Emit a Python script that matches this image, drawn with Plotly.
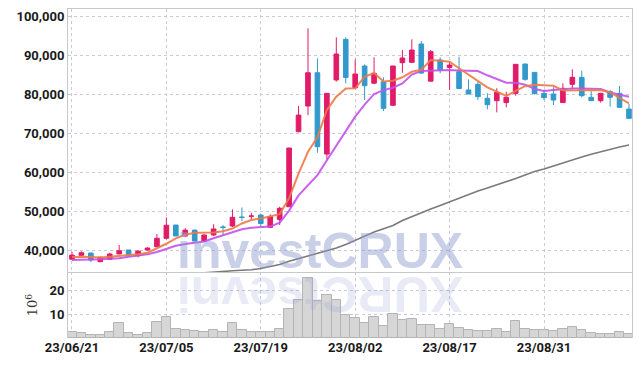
import plotly.graph_objects as go

dates = (
    ["2023-06-%02d" % d for d in [21, 22, 23, 26, 27, 28, 29, 30]]
    + ["2023-07-%02d" % d for d in [3, 4, 5, 6, 7, 10, 11, 12, 13, 14, 17, 18, 19, 20, 21, 24, 25, 26, 27, 28, 31]]
    + ["2023-08-%02d" % d for d in [1, 2, 3, 4, 7, 8, 9, 10, 11, 14, 16, 17, 18, 21, 22, 23, 24, 25, 28, 29, 30, 31]]
    + ["2023-09-%02d" % d for d in [1, 4, 5, 6, 7, 8, 11, 12, 13]]
)

open_ = [37650, 38640, 39230, 37000, 37600, 39000, 40000, 38540, 40000, 40850,
         43000, 46400, 43600, 45100, 42300, 43850, 45900, 46150, 48450, 48650,
         48970, 45800, 47800, 51100, 70330, 76920, 85450, 64600, 83600, 94020,
         81600, 87180, 82770, 83150, 77100, 88030, 88120, 92820, 83300, 88720,
         86800, 85720, 81030, 82480, 78890, 78290, 77800, 80170, 87690, 85550,
         80170, 80000, 77800, 82480, 84270, 79150, 78290, 80600, 80170, 76150]
high = [39550, 39670, 39300, 38300, 39300, 41280, 40000, 40000, 40700, 44100,
        48400, 46450, 45600, 45200, 44000, 46600, 46400, 50430, 50900, 49560,
        49200, 49150, 51100, 66200, 76920, 96850, 89150, 80200, 94540, 94540,
        88900, 87600, 89400, 84280, 87200, 91280, 94020, 93580, 91280, 89400,
        88460, 89570, 83750, 83330, 80170, 81470, 80600, 87700, 87800, 85600,
        81000, 81710, 82730, 86330, 85980, 80850, 80300, 81030, 82050, 77430]
low = [37400, 38500, 36900, 36900, 37500, 38900, 38600, 38100, 39850, 40700,
       42700, 43600, 43300, 42200, 42200, 43600, 43800, 45900, 47400, 47700,
       46150, 45600, 46400, 51000, 70200, 74600, 64950, 62900, 83200, 82740,
       81500, 78460, 82500, 75640, 77000, 85460, 87950, 85300, 83200, 85360,
       81030, 81400, 80000, 78460, 76070, 75300, 76580, 79570, 83400, 79900,
       78460, 77180, 77700, 81200, 79150, 78200, 77800, 76750, 76500, 73700]
close = [38700, 39300, 37430, 38130, 38970, 39820, 38720, 39700, 40500, 43000,
         46350, 43600, 45100, 42300, 43850, 45400, 45800, 48380, 48350, 48720,
         46800, 48550, 50700, 66150, 74600, 85450, 66500, 80170, 90250, 84250,
         85130, 82130, 85300, 76330, 87180, 89230, 91280, 85360, 90850, 86150,
         87430, 81410, 80000, 79320, 77260, 80430, 79150, 87610, 83760, 80090,
         79060, 78460, 81450, 84270, 79570, 78290, 80170, 79150, 76580, 73760]

ma_short = [38200, 38300, 38200, 38100, 38300, 38500, 38700, 38900, 39300, 40400,
            41600, 43000, 43900, 44400, 44400, 44500, 44800, 45500, 46800, 47700,
            48100, 48600, 49200, 53300, 59600, 65200, 68900, 75900, 79300, 81400,
            81450, 84400, 85400, 83200, 83400, 84300, 85700, 86200, 88700, 88500,
            88300, 86600, 84900, 83200, 81700, 80600, 79500, 80800, 82000, 82400,
            82300, 82100, 80900, 80900, 81000, 80900, 81000, 80400, 79100, 77600]
ma_mid = [37440, 37440, 37450, 37600, 37750, 37900, 38250, 38550, 38900, 39500,
          40400, 41100, 41550, 41900, 42200, 43000, 43700, 44500, 45300, 45700,
          45800, 46000, 47000, 50100, 54000, 56700, 59200, 63000, 66700, 70300,
          74200, 77300, 80000, 81000, 81600, 82700, 85000, 85900, 86000, 86100,
          86150, 86050, 86000, 85900, 84800, 83800, 82900, 82900, 82400, 81300,
          80800, 81000, 81200, 81400, 81400, 81400, 81300, 80400, 79800, 79300]
ma_long = [None] * 14 + [
    34150, 34380, 34540, 34670, 34800, 34920, 35260, 35690, 36280, 37100,
    37770, 38330, 39180, 39740, 40510, 41410, 42440, 43590, 44620, 45440,
    46280, 47560, 48590, 49490, 50510, 51410, 52380, 53330, 54230, 55130,
    55900, 56670, 57440, 58330, 59230, 60130, 60770, 61540, 62310, 63200,
    63850, 64540, 65200, 65820, 66410, 66920]

volume = [2.4, 1.9, 1.4, 1.4, 2.4, 6.1, 1.9, 1.4, 1.9, 6.5,
          8.6, 3.6, 3.2, 2.8, 2.4, 3.2, 2.4, 6.1, 3.2, 2.4,
          2.4, 2.4, 3.6, 12.0, 15.7, 24.9, 15.3, 17.9, 15.8, 9.6,
          8.2, 6.4, 8.6, 5.0, 10.0, 7.5, 7.8, 5.4, 5.4, 3.6,
          5.8, 4.3, 3.2, 2.9, 2.9, 3.75, 2.5, 7.1, 3.75, 3.2,
          3.2, 2.9, 3.6, 4.6, 3.3, 2.2, 1.5, 1.5, 2.5, 1.7]

tick_dates = ["2023-06-21", "2023-07-05", "2023-07-19", "2023-08-02", "2023-08-17", "2023-08-31"]
tick_labels = ["23/06/21", "23/07/05", "23/07/19", "23/08/02", "23/08/17", "23/08/31"]
price_ticks = [40000, 50000, 60000, 70000, 80000, 90000, 100000]
vol_ticks = [10, 20]

W, H = 642, 366
L, R, T, B = 68, 10, 9, 28
sep_px = 272
plot_h = H - T - B
split = (H - B - sep_px) / plot_h

FONT = "Roboto, Liberation Sans, sans-serif"
TICKFONT = dict(family=FONT, size=13, color="#1a1a1a", weight="bold")
GRID = "#c9c9dc"
UP = "#e21b68"
DOWN = "#3399cc"

fig = go.Figure()
fig.add_trace(go.Candlestick(
    x=dates, open=open_, high=high, low=low, close=close,
    increasing=dict(line=dict(color=UP, width=1), fillcolor=UP),
    decreasing=dict(line=dict(color=DOWN, width=1), fillcolor=DOWN),
    whiskerwidth=0, showlegend=False, xaxis="x", yaxis="y",
))
fig.add_trace(go.Scatter(x=dates, y=ma_long, mode="lines", line=dict(color="#7a7a7a", width=1.6),
                         showlegend=False, xaxis="x", yaxis="y", connectgaps=False))
fig.add_trace(go.Scatter(x=dates, y=ma_mid, mode="lines", line=dict(color="rgba(196,80,235,0.9)", width=2),
                         showlegend=False, xaxis="x", yaxis="y"))
fig.add_trace(go.Scatter(x=dates, y=ma_short, mode="lines", line=dict(color="rgba(236,122,70,0.9)", width=2),
                         showlegend=False, xaxis="x", yaxis="y"))
fig.add_trace(go.Bar(x=dates, y=volume, marker=dict(color="#d6d6d6", line=dict(color="#b4b4b4", width=1)),
                     showlegend=False, xaxis="x2", yaxis="y2"))

xr = [-0.42, 59.32]
common_x = dict(type="category", range=xr, showgrid=True, gridcolor=GRID, griddash="dot",
                gridwidth=1, tickvals=tick_dates, ticktext=tick_labels, zeroline=False)

fig.update_layout(
    width=W, height=H, margin=dict(l=L, r=R, t=T, b=B),
    paper_bgcolor="white", plot_bgcolor="white",
    font=dict(family=FONT, size=13, color="#222222"),
    bargap=0,
    xaxis=dict(common_x, domain=[0, 1], anchor="y", showticklabels=False, rangeslider=dict(visible=False),
               showline=True, linecolor="#c8c8c8", mirror=True, ticks=""),
    xaxis2=dict(common_x, domain=[0, 1], anchor="y2", matches="x", showticklabels=True,
                tickfont=TICKFONT, showline=False, ticks=""),
    yaxis=dict(domain=[split, 1], anchor="x", range=[34360, 101800], tickvals=price_ticks,
               tickformat=",d", showgrid=True, gridcolor=GRID, griddash="dot", zeroline=False,
               showline=True, linecolor="#c8c8c8", mirror=True, ticks="", tickfont=TICKFONT),
    yaxis2=dict(domain=[0, split], anchor="x2", range=[0, 27.5], tickvals=vol_ticks,
                showgrid=True, gridcolor=GRID, griddash="dot", zeroline=False,
                showline=True, linecolor="#c8c8c8", mirror=True, ticks="", tickfont=TICKFONT,
                title=dict(text="10<sup>6</sup>", standoff=8,
                           font=dict(family="DejaVu Serif, serif", size=13, color="#333333"))),
)

def py(pix):
    return (H - B - pix) / plot_h

fig.add_annotation(text="<b>investCRUX</b>", xref="paper", yref="paper",
                   x=(320 - L) / (W - L - R), y=py(251), xanchor="center", yanchor="middle",
                   showarrow=False, font=dict(family="Liberation Sans, Arial, sans-serif", size=50,
                                              color="rgba(140,155,205,0.47)"))
fig.add_annotation(text="<b>XURCtsevni</b>", xref="paper", yref="paper", textangle=180,
                   x=(320 - L) / (W - L - R), y=py(294), xanchor="center", yanchor="middle",
                   showarrow=False, font=dict(family="Liberation Sans, Arial, sans-serif", size=50,
                                              color="rgba(140,155,205,0.2)"))

fig.write_html("out.html")
